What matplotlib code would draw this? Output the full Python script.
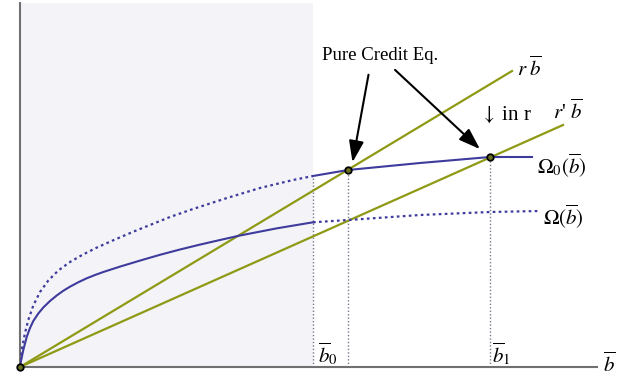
import matplotlib
matplotlib.use('Agg')
import matplotlib.pyplot as plt

plt.rcParams['mathtext.fontset'] = 'stix'
plt.rcParams['font.family'] = ['Liberation Serif', 'DejaVu Serif']

# Omega(b): solid part (inside shaded region), then dotted part
omega_solid_x = [0, 0.02, 0.066, 0.134, 0.2, 0.266, 0.366, 0.466, 0.6, 0.734, 0.866,
                 1.0, 1.166, 1.334, 1.5, 1.666, 2.0, 2.4, 2.8, 3.2, 3.6, 4.0, 4.4, 5.14, 5.86]
omega_solid_y = [0, 0.12, 0.34, 0.6, 0.78, 0.92, 1.07, 1.19, 1.32, 1.43, 1.525,
                 1.606, 1.695, 1.774, 1.84, 1.9, 2.008, 2.128, 2.244, 2.35, 2.448, 2.54, 2.63, 2.774, 2.894]
omega_dot_x = [5.86, 6.56, 8.0, 9.4, 10.4]
omega_dot_y = [2.894, 2.94, 3.04, 3.1, 3.12]

# Omega_0(b): dotted part (inside shaded region), then solid part
omega0_dot_x = [0, 0.02, 0.046, 0.1, 0.166, 0.266, 0.4, 0.566, 0.766, 1.0, 1.26, 1.54,
                1.9, 2.3, 2.7, 3.0, 3.46, 4.14, 4.8, 5.46, 5.86]
omega0_dot_y = [0, 0.22, 0.4, 0.68, 0.94, 1.23, 1.5, 1.73, 1.93, 2.1, 2.25, 2.39,
                2.55, 2.72, 2.88, 3.0, 3.16, 3.38, 3.58, 3.74, 3.82]
omega0_solid_x = [5.86, 6.56, 8.0, 9.4, 10.24]
omega0_solid_y = [3.82, 3.94, 4.08, 4.2, 4.2]

# straight lines r*b and r'*b (end points)
r_line_x = [0, 9.84]
r_line_y = [0, 5.92]
rp_line_x = [0, 10.86]
rp_line_y = [0, 4.84]

# special points
b_bar0 = 5.86
eq_x = [0, 6.56, 9.4]
eq_y = [0, 3.94, 4.2]

BLUE = '#3e3b9c'
OLIVE = '#8e9a14'

fig = plt.figure(figsize=(6.39, 3.78), dpi=100)
ax = fig.add_axes([20 / 639, 11 / 378, 577 / 639, 364 / 378])
ax.set_xlim(0, 11.54)
ax.set_ylim(0, 7.28)

# shaded region
ax.axvspan(0, b_bar0, color='#f3f3f8', zorder=0, lw=0)

# vertical dotted guides
for xv, yv in [(b_bar0, omega0_dot_y[-1]), (eq_x[1], eq_y[1]), (eq_x[2], eq_y[2])]:
    ax.plot([xv, xv], [0, yv], color='#7a7a8a', lw=1.0, ls=(0, (1, 1.5)), zorder=1)

# r lines
ax.plot(r_line_x, r_line_y, color=OLIVE, lw=1.6, zorder=2)
ax.plot(rp_line_x, rp_line_y, color=OLIVE, lw=1.6, zorder=2)

# Omega curves
ax.plot(omega_solid_x, omega_solid_y, color=BLUE, lw=1.5, zorder=3)
ax.plot(omega_dot_x, omega_dot_y, color=BLUE, lw=1.6, ls=(0, (1.2, 1.5)), zorder=3)
ax.plot(omega0_dot_x, omega0_dot_y, color=BLUE, lw=1.6, ls=(0, (1.2, 1.5)), zorder=3)
ax.plot(omega0_solid_x, omega0_solid_y, color=BLUE, lw=1.5, zorder=3)

# equilibrium points
ax.scatter(eq_x, eq_y, s=22, facecolor='#6b7020', edgecolor='black', lw=1.3, zorder=5, clip_on=False)

# annotation arrows
ax.text(6.04, 6.24, 'Pure Credit Eq.', fontsize=13.5, va='center', ha='left')
arrow = dict(arrowstyle='-|>,head_length=1.3,head_width=0.45', color='black', lw=1.5)
ax.annotate('', xy=(6.64, 4.04), xytext=(6.98, 5.9), arrowprops=arrow)
ax.annotate('', xy=(9.24, 4.32), xytext=(7.46, 5.98), arrowprops=arrow)

# labels
ax.text(9.94, 5.96, r'$r\;\overline{b}$', fontsize=15, va='center', ha='left')
ax.text(10.66, 5.1, r"$r$' $\overline{b}$", fontsize=15, va='center', ha='left')
ax.text(9.2, 5.04, r'$\downarrow$ in r', fontsize=15, va='center', ha='left')
ax.text(10.34, 4.04, r'$\Omega_0(\overline{b})$', fontsize=15, va='center', ha='left')
ax.text(10.46, 3.02, r'$\Omega(\overline{b})$', fontsize=15, va='center', ha='left')
ax.text(5.96, 0.26, r'$\overline{b}_0$', fontsize=15, va='center', ha='left')
ax.text(9.44, 0.26, r'$\overline{b}_1$', fontsize=15, va='center', ha='left')
ax.text(11.66, 0.04, r'$\overline{b}$', fontsize=15, va='center', ha='left', clip_on=False)

# axes styling
for side in ['top', 'right']:
    ax.spines[side].set_visible(False)
for side in ['left', 'bottom']:
    ax.spines[side].set_color('#707070')
    ax.spines[side].set_linewidth(1.5)
ax.set_xticks([])
ax.set_yticks([])

fig.savefig('out.png', dpi=100)
